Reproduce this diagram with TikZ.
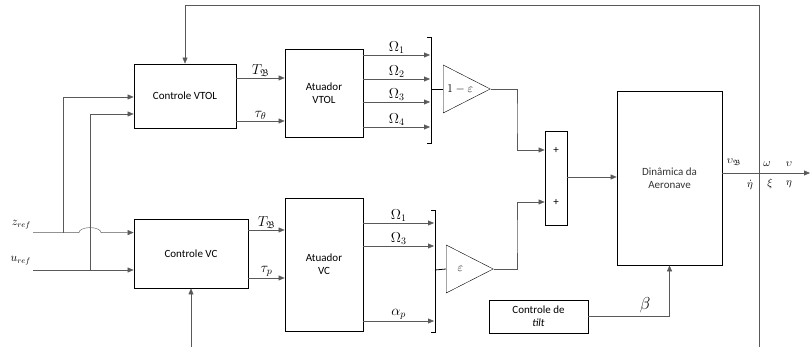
\documentclass[tikz,border=0pt]{standalone}
\usepackage{amssymb}
\usepackage{fontspec}
\setmainfont{Carlito}
\usetikzlibrary{arrows.meta,shapes.geometric}
\tikzset{
  blk/.style={draw, thick, align=center, inner sep=1pt},
  sig/.style={draw=black!65, -{Triangle[length=6pt,width=5pt]}},
  gain/.style={draw, isosceles triangle, isosceles triangle stretches, inner sep=0pt,
    minimum width=48pt, minimum height=47pt, anchor=lower side, font=\fontsize{13}{15}\selectfont},
  lbl/.style={font=\fontsize{11}{13}\selectfont, inner sep=0.5pt},
  sl/.style={above, font=\fontsize{14}{16}\selectfont, inner sep=1.5pt}
}
\begin{document}
\begin{tikzpicture}[x=1pt, y=1pt, font=\fontsize{11}{13}\selectfont]
\useasboundingbox (0,0) rectangle (810,347);
% blocos
\node[blk, minimum width=102, minimum height=64] (cvtol) at (185,251) {Controle VTOL};
\node[blk, minimum width=78, minimum height=88] (avtol) at (324,254) {Atuador\\VTOL};
\node[blk, minimum width=114, minimum height=69] (cvc) at (191,93.5) {Controle VC};
\node[blk, minimum width=78, minimum height=133] (avc) at (324,82.5) {Atuador\\VC};
\node[blk, minimum width=22, minimum height=94] (soma) at (556,169) {};
\node (p1) at (556,197) {+};
\node (p2) at (556,145) {+};
\node[blk, minimum width=105, minimum height=174, text=black!80] (din) at (669.5,169) {Dinâmica da\\Aeronave};
\node[blk, minimum width=99, minimum height=33] (tilt) at (538.5,30.5) {Controle de\\\textit{tilt}};
\node[gain] (g1) at (443,258) {$1-\varepsilon$};
\node[gain] (g2) at (446,78) {$\varepsilon$};
\node[anchor=east, inner sep=1pt, font=\fontsize{12}{14}\selectfont] (zref) at (32,122) {$z_{ref}$};
\node[anchor=east, inner sep=1pt, font=\fontsize{12}{14}\selectfont] (uref) at (32,86) {$u_{ref}$};
\coordinate (z0) at (33,114.4);
\coordinate (u0) at (33,77);
\coordinate (j1) at (63,114.4);
\coordinate (j2) at (90,77);
\coordinate (out) at (810,174);
% entradas
\draw[sig] (z0) -- (79,114.4) arc[start angle=180, end angle=0, x radius=11, y radius=5] -- (cvc.west |- z0);
\draw[sig] (u0) -- (cvc.west |- u0);
\draw[sig] (j1) |- (cvtol.west |- 0,250);
\draw[sig] (j2) |- (cvtol.west |- 0,233);
\draw[sig] (cvc.south |- 0,0) -- (cvc.south);
\draw[sig] (759,0) -- (759,342) -| (cvtol.north);
% controle -> atuador
\draw[sig] (cvtol.east |- 0,269) -- node[sl]{$T_{\mathfrak{B}}$} (avtol.west |- 0,269);
\draw[sig] (cvtol.east |- 0,226) -- node[sl]{$\tau_\theta$} (avtol.west |- 0,226);
\draw[sig] (cvc.east |- 0,117) -- node[sl]{$T_{\mathfrak{B}}$} (avc.west |- 0,117);
\draw[sig] (cvc.east |- 0,69) -- node[sl]{$\tau_p$} (avc.west |- 0,69);
% atuadores -> ganhos
\foreach \y/\n in {292/1, 268/2, 245/3, 220/4}
  \draw[sig] (avtol.east |- 0,\y) -- node[sl]{$\Omega_\n$} (430,\y);
\foreach \y/\t in {124/\Omega_1, 101/\Omega_3, 26/\alpha_p}
  \draw[sig] (avc.east |- 0,\y) -- node[sl]{$\t$} (434,\y);
\draw[thick] (427,310) -| (431,204) -- (427,204);
\draw[thick] (431,258) -- (g1.lower side);
\draw[thick] (431,137) -| (435,15) -- (431,15);
\draw[thick] (435,77) -- (g2.lower side);
% soma e dinamica
\draw[sig] (g1.apex) -| (517,230) |- (soma.west |- p1);
\draw[sig] (g2.apex) -| (517,110) |- (soma.west |- p2);
\draw[sig] (soma.east |- 0,170) -- (din.west |- 0,170);
\draw[sig] (tilt.east) -| node[pos=0.35, above, font=\fontsize{17}{19}\selectfont]{$\beta$} (din.south);
\draw[sig] (din.east |- out) -- (out);
\node[lbl] (o1) at (734,185) {$\upsilon_{\mathfrak{B}}$};
\node[lbl] (o2) at (767,183) {$\omega$};
\node[lbl] (o3) at (789,183) {$\upsilon$};
\node[lbl] (o4) at (750,162) {$\dot\eta$};
\node[lbl] (o5) at (770,163) {$\xi$};
\node[lbl] (o6) at (789,163) {$\eta$};
\end{tikzpicture}
\end{document}
